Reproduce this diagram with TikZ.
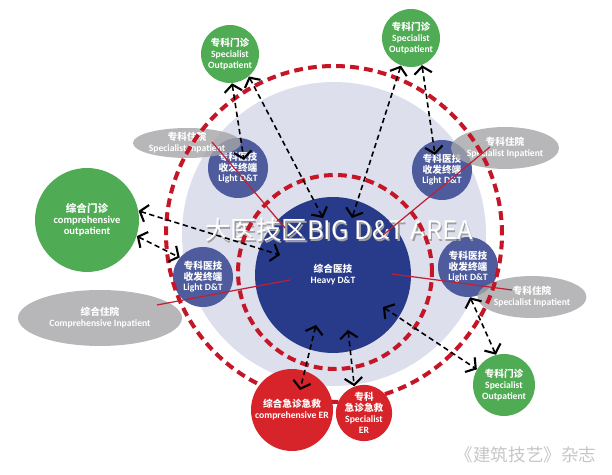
\documentclass[tikz,border=0pt]{standalone}
\usepackage{fontspec}
\setmainfont{Carlito}
\newfontfamily\cjk{Noto Sans CJK SC}
\usepackage{tikz}
\usetikzlibrary{shapes.geometric,arrows.meta,calc}
\definecolor{outgreen}{RGB}{80,172,84}
\definecolor{heavyblue}{RGB}{40,58,138}
\definecolor{lightblue}{RGB}{78,92,158}
\definecolor{paleblue}{RGB}{221,223,236}
\definecolor{erred}{RGB}{214,36,42}
\definecolor{ringred}{RGB}{196,22,38}
\definecolor{linkred}{RGB}{192,32,52}
\definecolor{inpgrey}{RGB}{165,165,167}
\newcommand{\lbl}{\fontsize{5.5}{6.2}\selectfont\bfseries}

\begin{document}
\begin{tikzpicture}[x=0.02cm,y=-0.02cm,
    outp/.style={circle,fill=outgreen,text=white,font=\lbl,align=center,inner sep=0pt,minimum size=#1},
    ldt/.style={circle,fill=lightblue,text=white,font=\fontsize{5.5}{5.9}\selectfont\bfseries,align=center,inner sep=0pt,minimum size=1.2cm},
    inp/.style={ellipse,fill=inpgrey,fill opacity=0.8,text opacity=1,text=white,font=\lbl,align=center,inner sep=0pt},
    er/.style={circle,fill=erred,text=white,font=\lbl,align=center,inner sep=0pt,minimum size=#1},
    ring/.style={draw=ringred,line width=2.3pt,dash pattern=on 5pt off 3pt},
    redcut/.style={draw=linkred,line width=0.7pt},
    link/.style={black,line width=0.9pt,dash pattern=on 3pt off 2pt,
      {Straight Barb[length=4pt,width=10pt,line width=1.2pt]}-{Straight Barb[length=4pt,width=10pt,line width=1.2pt]}}]
      \useasboundingbox (0,0) rectangle (612,475);
      \fill[paleblue] (334,234) circle[radius=3.04cm];

      \node[circle,fill=heavyblue,text=white,font=\lbl,align=center,inner sep=0pt,minimum size=3.12cm] (HDT) at (333,275) {{\cjk 综合医技}\\Heavy D\&T};

      \node[ldt] (LDa) at (238,168) {{\cjk 专科医技}\\{\cjk 收发终端}\\Light D\&T};
      \node[ldt] (LDb) at (442,170) {{\cjk 专科医技}\\{\cjk 收发终端}\\Light D\&T};
      \node[ldt] (LDc) at (203,277) {{\cjk 专科医技}\\{\cjk 收发终端}\\Light D\&T};
      \node[ldt] (LDd) at (468,267) {{\cjk 专科医技}\\{\cjk 收发终端}\\Light D\&T};

      \node[text=gray!75,font=\cjk\fontsize{14.5}{15}\selectfont] (areaS) at (340.5,231.5) {大医技区BIG D\&T AREA};
      \node[text=white,font=\cjk\fontsize{14.5}{15}\selectfont] (area) at (339,230) {大医技区BIG D\&T AREA};

      \node[inp,minimum width=2.16cm,minimum height=0.6cm] (IPa) at (187,143) {{\cjk 专科住院}\\Specialist Inpatient};
      \node[inp,minimum width=2.14cm,minimum height=0.84cm] (IPb) at (505,148) {{\cjk 专科住院}\\Specialist Inpatient};
      \node[inp,minimum width=2.18cm,minimum height=0.84cm] (IPc) at (532,297) {{\cjk 专科住院}\\Specialist Inpatient};
      \node[inp,minimum width=3.28cm,minimum height=1.12cm] (CIP) at (100,318) {{\cjk 综合住院}\\Comprehensive Inpatient};

      \draw[redcut] ($(IPa.center)+(25,-1)$) -- ($(HDT.center)+(-48,-47)$);
      \draw[redcut] ($(IPb.center)+(-15,-1)$) -- ($(HDT.center)+(50,-40)$);
      \draw[redcut] ($(CIP.center)+(57,-13)$) -- ($(HDT.center)+(-43,5)$);
      \draw[redcut] ($(HDT.center)+(59,-1)$) -- ($(IPc.center)+(-20,-7)$);

      \draw[ring] (334,234) circle[radius=3.36cm];
      \draw[ring] (335,272) circle[radius=1.94cm];

      \node[outp=1.16cm] (OPa) at (230,54) {{\cjk 专科门诊}\\Specialist\\Outpatient};
      \node[outp=1.16cm] (OPb) at (411,38) {{\cjk 专科门诊}\\Specialist\\Outpatient};
      \node[outp=1.24cm] (OPc) at (504,385) {{\cjk 专科门诊}\\Specialist\\Outpatient};
      \node[outp=2.08cm,font=\fontsize{6}{6.3}\selectfont\bfseries] (COP) at (87,220) {{\cjk 综合门诊}\\comprehensive\\outpatient};

      \node[er=1.64cm] (CER) at (292,410) {{\cjk 综合急诊急救}\\comprehensive ER};
      \node[er=1.08cm] (SER) at (364,413) {{\cjk 专科}\\{\cjk 急诊急救}\\Specialist\\ER};

      \draw[link] (OPa.-86) -- ($(LDa.center)+(6,-8)$);
      \draw[link] (OPa.-50) -- ($(HDT.center)+(-10,-57)$);
      \draw[link] (OPb.-110) -- ($(HDT.center)+(19,-57)$);
      \draw[link] (OPb.-68) -- ($(LDb.center)+(-7,-15)$);
      \draw[link] (COP.10) -- ($(HDT.center)+(-53,-20)$);
      \draw[link] (COP.-18) -- (LDc.140);
      \draw[link] ($(HDT.center)+(50,32)$) -- (OPc.150);
      \draw[link] (LDd.-86) -- (OPc.105);
      \draw[link] ($(HDT.center)+(-17,50)$) -- ($(CER.center)+(8,-20)$);
      \draw[link] ($(HDT.center)+(15,55)$) -- (SER.110);

      \node[text=gray!45,font=\cjk\fontsize{10}{10}\selectfont] (mark) at (526,455) {《建筑技艺》杂志};
\end{tikzpicture}
\end{document}
